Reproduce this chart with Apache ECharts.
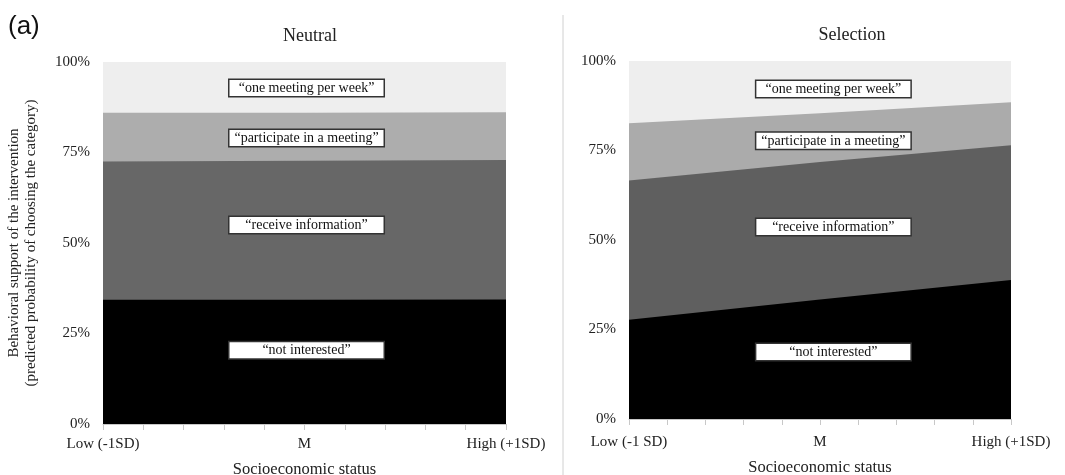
<!DOCTYPE html>
<html>
<head>
<meta charset="utf-8">
<script src="https://cdn.jsdelivr.net/npm/echarts@6/dist/echarts.min.js"></script>
<style>
  html, body { margin: 0; padding: 0; background: #fff; }
  #main { width: 1065px; height: 475px; }
</style>
</head>
<body>
<div id="main"></div>
<script>
// SES positions: low (-1SD), mean, high (+1SD)
var sesPoints = [-1, 0, 1];

// cumulative upper edges (%) of each band
// Neutral
var neutralNotInterested = [34.3, 34.3, 34.4];
var neutralReceiveTop = [72.5, 72.7, 72.9];
var neutralParticipateTop = [86.0, 86.0, 86.1];
var neutralMeetingTop = [100, 100, 100];
// Selection
var selectionNotInterested = [27.7, 33.4, 38.8];
var selectionReceiveTop = [66.6, 71.8, 76.5];
var selectionParticipateTop = [82.6, 85.4, 88.5];
var selectionMeetingTop = [100, 100, 100];

var categories = ['\u201cnot interested\u201d', '\u201creceive information\u201d', '\u201cparticipate in a meeting\u201d', '\u201cone meeting per week\u201d'];
var yTicks = [0, 25, 50, 75, 100];
var xLabelsNeutral = ['Low (-1SD)', 'M', 'High (+1SD)'];
var xLabelsSelection = ['Low (-1 SD)', 'M', 'High (+1SD)'];

// label positions (x in SES units, y in %)
var neutralLabelX = [0.01, 0.01, 0.01, 0.01];
var neutralLabelY = [20.4, 55, 79, 92.8];
var selectionLabelX = [0.07, 0.07, 0.07, 0.07];
var selectionLabelY = [18.7, 53.6, 77.7, 92.2];

var serif = 'Liberation Serif, Times New Roman, serif';

function pairs(vals) {
  var out = [];
  for (var i = 0; i < sesPoints.length; i++) out.push([sesPoints[i], vals[i]]);
  return out;
}

// bands are drawn from the top edge down, each filled to 0%, so the
// next (lower) band covers the part below it
function makeSeries(idx, edges, colors, lx, ly) {
  var out = [];
  for (var k = 3; k >= 0; k--) {
    out.push({
      type: 'line',
      name: categories[k],
      xAxisIndex: idx,
      yAxisIndex: idx,
      data: pairs(edges[k]),
      showSymbol: false,
      lineStyle: { width: 0 },
      areaStyle: { color: colors[k], opacity: 1, origin: 'start' },
      silent: true
    });
  }
  var marks = [];
  for (var j = 0; j < 4; j++) {
    marks.push({
      coord: [lx[j], ly[j]],
      value: categories[j],
      label: { formatter: categories[j] }
    });
  }
  out[3].markPoint = {
    symbolSize: 0,
    silent: true,
    z: 10,
    label: {
      show: true,
      position: 'inside',
      color: '#111',
      fontFamily: serif,
      fontSize: 14,
      backgroundColor: '#fff',
      borderColor: '#333',
      borderWidth: 1.5,
      padding: [2, 5, 0, 5],
      width: 144,
      align: 'center'
    },
    data: marks
  };
  return out;
}

function xLabelFn(labels) {
  return function (v) {
    if (Math.abs(v + 1) < 1e-6) return labels[0];
    if (Math.abs(v) < 1e-6) return labels[1];
    if (Math.abs(v - 1) < 1e-6) return labels[2];
    return '';
  };
}

function xAxisCfg(idx, labels, margin, gap) {
  return {
    type: 'value',
    gridIndex: idx,
    min: -1,
    max: 1,
    interval: 0.2,
    name: 'Socioeconomic status',
    nameLocation: 'middle',
    nameGap: gap,
    nameTextStyle: { fontFamily: serif, fontSize: 16.5, color: '#222' },
    axisLine: { show: true, lineStyle: { color: '#c8c8c8' } },
    axisTick: { show: true, length: 6, lineStyle: { color: '#c8c8c8' } },
    axisLabel: {
      formatter: xLabelFn(labels),
      fontFamily: serif,
      fontSize: 15,
      color: '#222',
      margin: margin,
      showMinLabel: true,
      showMaxLabel: true
    },
    splitLine: { show: false }
  };
}

function yAxisCfg(idx, withName) {
  var cfg = {
    type: 'value',
    gridIndex: idx,
    min: yTicks[0],
    max: yTicks[yTicks.length - 1],
    interval: 25,
    axisLine: { show: false },
    axisTick: { show: false },
    splitLine: { show: false },
    axisLabel: {
      formatter: '{value}%',
      fontFamily: serif,
      fontSize: 15,
      color: '#222',
      margin: 13
    }
  };
  if (withName) {
    cfg.name = 'Behavioral support of the intervention\n(predicted probability of choosing the category)';
    cfg.nameLocation = 'middle';
    cfg.nameRotate = 90;
    cfg.nameGap = 63;
    cfg.nameTextStyle = { fontFamily: serif, fontSize: 15, color: '#222', lineHeight: 17 };
  }
  return cfg;
}

var chart = echarts.init(document.getElementById('main'));

var neutralEdges = [neutralNotInterested, neutralReceiveTop, neutralParticipateTop, neutralMeetingTop];
var selectionEdges = [selectionNotInterested, selectionReceiveTop, selectionParticipateTop, selectionMeetingTop];

var option = {
  backgroundColor: '#fff',
  animation: false,
  title: [
    { text: 'Neutral', left: 305, top: 22, textAlign: 'center',
      textStyle: { fontFamily: serif, fontSize: 18, fontWeight: 'normal', color: '#222' } },
    { text: 'Selection', left: 847, top: 21, textAlign: 'center',
      textStyle: { fontFamily: serif, fontSize: 18, fontWeight: 'normal', color: '#222' } },
    { text: '(a)', left: 3, top: 9,
      textStyle: { fontFamily: 'Liberation Sans, Arial, sans-serif', fontSize: 26, fontWeight: 'normal', color: '#111' } }
  ],
  graphic: [
    { type: 'line', shape: { x1: 563, y1: 15, x2: 563, y2: 475 }, style: { stroke: '#d0d0d0', lineWidth: 1 } }
  ],
  grid: [
    { left: 103, right: 559, top: 62, bottom: 51, outerBoundsMode: 'none' },
    { left: 629, right: 54, top: 61, bottom: 56, outerBoundsMode: 'none' }
  ],
  xAxis: [xAxisCfg(0, xLabelsNeutral, 13, 37), xAxisCfg(1, xLabelsSelection, 16, 40)],
  yAxis: [yAxisCfg(0, true), yAxisCfg(1, false)],
  series: []
    .concat(makeSeries(0, neutralEdges, ['#000000', '#676767', '#adadad', '#eeeeee'], neutralLabelX, neutralLabelY))
    .concat(makeSeries(1, selectionEdges, ['#000000', '#5f5f5f', '#ababab', '#eeeeee'], selectionLabelX, selectionLabelY))
};

chart.setOption(option);
</script>
</body>
</html>
